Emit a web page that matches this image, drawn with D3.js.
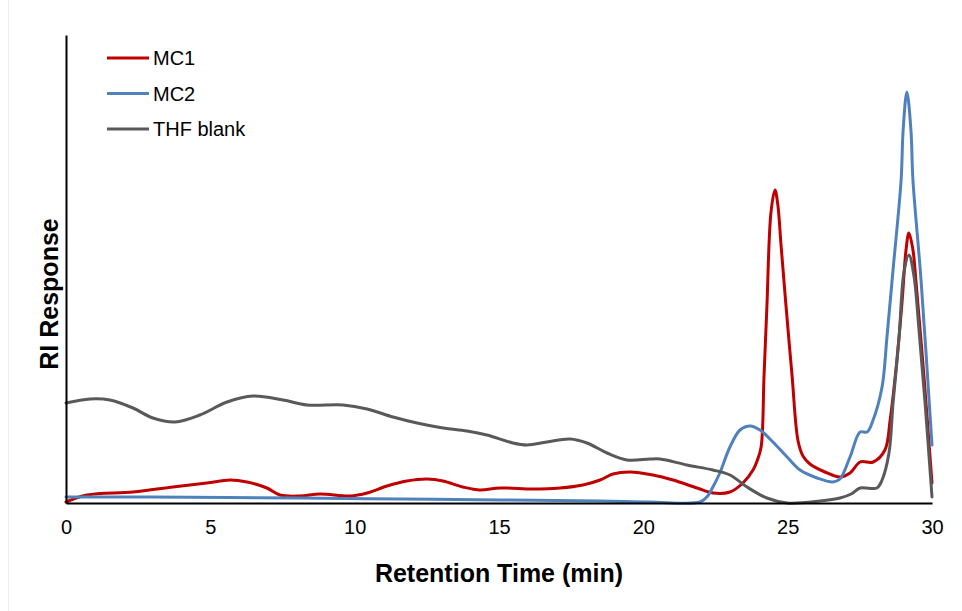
<!DOCTYPE html>
<html>
<head>
<meta charset="utf-8">
<script src="https://cdn.jsdelivr.net/npm/d3@7"></script>
<style>
  html, body { margin: 0; padding: 0; background: #fff; }
  svg { display: block; }
  text { font-family: "Liberation Sans", Arial, Helvetica, sans-serif; fill: #000; }
</style>
</head>
<body>
<svg id="chart" width="962" height="611"></svg>
<script>
// GPC traces: retention time (min) and refractive-index detector response (arb. units)
const timeMC1 = [0.00, 0.73, 2.32, 3.71, 4.88, 5.68, 6.27, 6.96, 7.41, 8.11, 8.80, 9.84, 10.43, 11.12, 11.81, 12.51, 13.06, 13.75, 14.34, 15.03, 16.18, 17.11, 17.91, 18.50, 18.95, 19.54, 20.33, 21.03, 21.86, 22.41, 23.00, 23.45, 23.80, 23.94, 24.08, 24.18, 24.28, 24.42, 24.56, 24.66, 24.77, 24.94, 25.15, 25.36, 25.53, 25.77, 26.29, 26.81, 27.16, 27.51, 27.96, 28.37, 28.55, 28.75, 28.96, 29.10, 29.20, 29.34, 29.44, 29.72, 30.00];
const respMC1 = [1, 8, 11, 16, 20, 23, 21, 15, 8, 7, 9, 7, 10, 17, 22, 24, 22, 16, 13, 15, 14, 15, 18, 23, 29, 31, 28, 23, 15, 10, 11, 20, 33, 42, 56, 126, 196, 290, 313, 298, 258, 198, 128, 62, 47, 39, 31, 26, 30, 41, 41, 53, 83, 133, 200, 253, 270, 253, 223, 127, 20];

const timeMC2 = [0.00, 2.91, 8.11, 11.57, 15.03, 18.50, 20.23, 21.96, 22.20, 22.41, 22.65, 23.00, 23.35, 23.70, 24.04, 24.49, 24.98, 25.43, 26.02, 26.57, 26.81, 27.16, 27.51, 27.75, 27.96, 28.27, 28.44, 28.65, 28.93, 29.00, 29.13, 29.27, 29.34, 29.62, 30.00];
const respMC2 = [6, 6, 5, 4, 3, 2, 1, 1, 6, 16, 30, 56, 73, 77, 73, 61, 46, 33, 25, 21, 24, 46, 71, 71, 83, 116, 166, 233, 323, 373, 411, 373, 323, 223, 58];

const timeTHF = [0.00, 0.83, 1.52, 2.32, 3.01, 3.78, 4.64, 5.58, 6.48, 7.52, 8.35, 9.60, 10.43, 11.33, 12.16, 13.06, 13.89, 14.58, 15.48, 15.97, 16.66, 17.46, 18.05, 18.74, 19.43, 20.23, 20.58, 21.51, 22.41, 23.00, 23.59, 24.28, 24.98, 26.12, 26.81, 27.20, 27.51, 28.09, 28.27, 28.51, 28.65, 28.86, 29.03, 29.20, 29.37, 29.55, 29.76, 30.00];
const respTHF = [100, 104, 103, 95, 85, 81, 88, 101, 107, 103, 98, 98, 94, 86, 80, 75, 72, 68, 60, 58, 61, 64, 60, 50, 43, 44, 44, 38, 33, 28, 16, 5, 0, 2, 5, 9, 15, 15, 23, 50, 100, 166, 231, 248, 228, 173, 100, 6];

const seriesNames = ["MC1", "MC2", "THF blank"];
const seriesColors = ["#C00000", "#4F81BD", "#595959"];
const xTickValues = [0, 5, 10, 15, 20, 25, 30];
const xTitle = "Retention Time (min)";
const yTitle = "RI Response";

const series = [
  { name: seriesNames[0], color: seriesColors[0], t: timeMC1, v: respMC1 },
  { name: seriesNames[1], color: seriesColors[1], t: timeMC2, v: respMC2 },
  { name: seriesNames[2], color: seriesColors[2], t: timeTHF, v: respTHF }
];

const svg = d3.select("#chart");
const W = 962, H = 611;
const plot = { left: 66, right: 932, top: 35, bottom: 503 };

// faint frame edge on the left of the canvas
svg.append("line")
  .attr("x1", 8.5).attr("x2", 8.5).attr("y1", 0).attr("y2", H)
  .attr("stroke", "#ececec").attr("stroke-width", 1);

const x = d3.scaleLinear().domain([0, 30]).range([plot.left, plot.right]);
const y = d3.scaleLinear().domain([0, 468]).range([plot.bottom, plot.top]);

// traces
const line = d3.line()
  .x(d => x(d[0]))
  .y(d => y(d[1]))
  .curve(d3.curveCatmullRom.alpha(0.5));

svg.append("g").attr("class", "traces")
  .selectAll("path")
  .data(series)
  .join("path")
  .attr("d", s => line(d3.zip(s.t, s.v)))
  .attr("fill", "none")
  .attr("stroke", s => s.color)
  .attr("stroke-width", 3)
  .attr("stroke-linejoin", "round")
  .attr("stroke-linecap", "round");

// axes
const xAxis = svg.append("g")
  .attr("transform", `translate(0,${plot.bottom})`)
  .call(d3.axisBottom(x).tickValues(xTickValues).tickFormat(d3.format("d"))
    .tickSize(0).tickSizeOuter(0).tickPadding(17));
xAxis.select(".domain").attr("stroke", "#000").attr("stroke-width", 2);
xAxis.selectAll("text")
  .style("font-family", "\"Liberation Sans\", Arial, sans-serif")
  .style("font-size", "20px").attr("fill", "#000");

const yAxis = svg.append("g")
  .attr("transform", `translate(${plot.left},0)`)
  .call(d3.axisLeft(y).tickValues([]).tickSizeOuter(0));
yAxis.select(".domain").attr("stroke", "#000").attr("stroke-width", 2);

// axis titles
svg.append("text")
  .attr("x", (plot.left + plot.right) / 2)
  .attr("y", 582)
  .attr("text-anchor", "middle")
  .style("font-size", "25px").style("font-weight", "bold")
  .text(xTitle);

svg.append("text")
  .attr("transform", `translate(58,${(plot.top + plot.bottom) / 2 + 25}) rotate(-90)`)
  .attr("text-anchor", "middle")
  .style("font-size", "25px").style("font-weight", "bold")
  .text(yTitle);

// legend
const legend = svg.append("g").attr("class", "legend");
const legendY = d3.scalePoint().domain(seriesNames).range([58, 129]);
const items = legend.selectAll("g").data(series).join("g")
  .attr("transform", s => `translate(107,${legendY(s.name)})`);
items.append("line")
  .attr("x1", 0).attr("x2", 42).attr("y1", 0).attr("y2", 0)
  .attr("stroke", s => s.color).attr("stroke-width", 3);
items.append("text")
  .attr("x", 46).attr("y", 7)
  .style("font-size", "20px")
  .text(s => s.name);
</script>
</body>
</html>
